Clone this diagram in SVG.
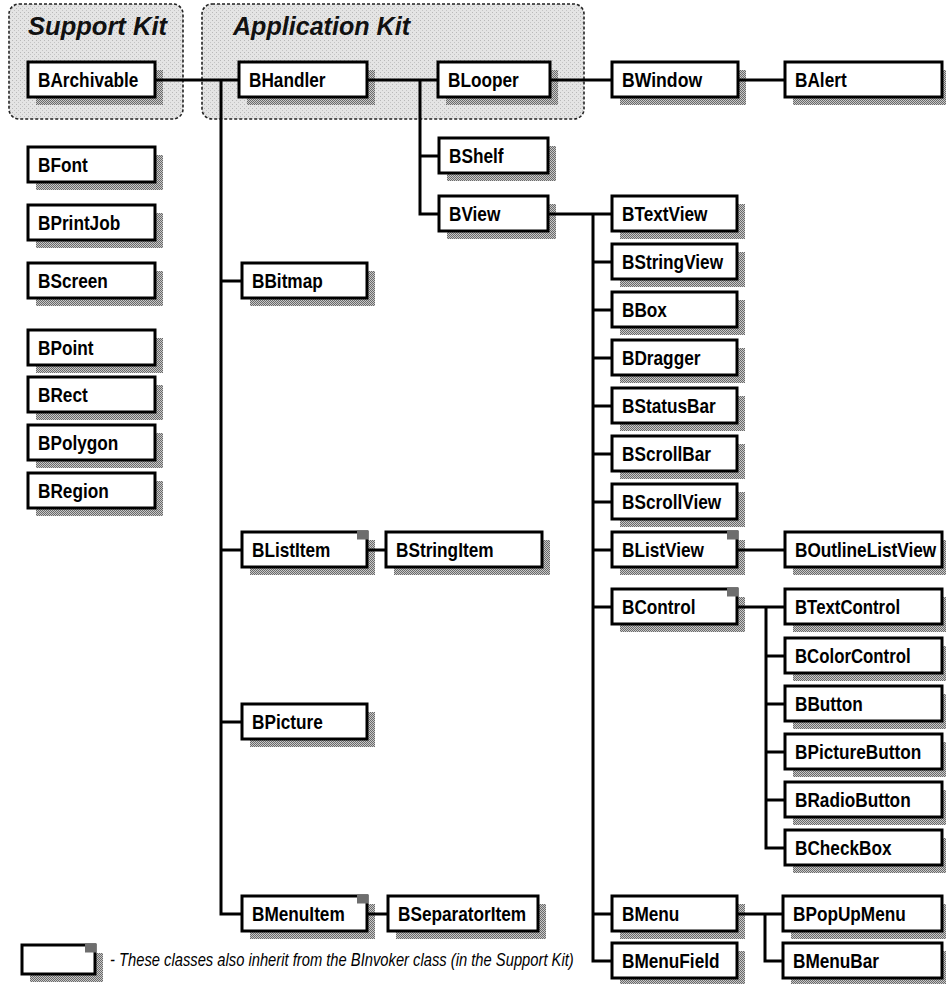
<svg xmlns="http://www.w3.org/2000/svg" width="946" height="984" viewBox="0 0 946 984">
<defs>
<pattern id="stip" width="4" height="4" patternUnits="userSpaceOnUse">
<rect width="4" height="4" fill="#e4e4e4"/>
<rect x="0" y="0" width="1" height="1" fill="#b8b8b8"/>
<rect x="2" y="2" width="1" height="1" fill="#c4c4c4"/>
</pattern>
<pattern id="shd" width="2" height="2" patternUnits="userSpaceOnUse">
<rect width="2" height="2" fill="#c8c8c8"/>
<rect x="0" y="0" width="1" height="1" fill="#6a6a6a"/>
<rect x="1" y="1" width="1" height="1" fill="#6a6a6a"/>
</pattern>
</defs>
<style>
.kit{fill:url(#stip);stroke:#222;stroke-width:1.6;stroke-dasharray:3 2}
.title{font-family:"Liberation Sans",Arial,sans-serif;font-weight:bold;font-style:italic;font-size:25px;fill:#111}
.sh{fill:url(#shd)}
.box{fill:#fff;stroke:#000;stroke-width:3}
.lbl{font-family:"Liberation Sans",Arial,sans-serif;font-weight:bold;font-size:21px;fill:#000}
.mk{fill:#6e6e6e}
.ln{fill:none;stroke:#000;stroke-width:3}
.leg{font-family:"Liberation Sans",Arial,sans-serif;font-style:italic;font-size:18px;fill:#000}
</style>

<g id="support-kit">
<rect class="kit" x="9" y="4" width="174" height="115" rx="10"/>
<text class="title" x="28" y="35" textLength="139" lengthAdjust="spacingAndGlyphs">Support Kit</text>
</g>
<g id="application-kit">
<rect class="kit" x="202" y="4" width="382" height="115" rx="10"/>
<text class="title" x="233" y="35" textLength="177" lengthAdjust="spacingAndGlyphs">Application Kit</text>
</g>

<g id="BArchivable"><rect class="sh" x="36" y="70" width="127" height="35"/><rect class="box" x="28" y="62" width="127" height="35"/><text class="lbl" transform="translate(38 87) scale(0.82 1)">BArchivable</text></g>
<g id="BFont"><rect class="sh" x="36" y="155" width="127" height="35"/><rect class="box" x="28" y="147" width="127" height="35"/><text class="lbl" transform="translate(38 172) scale(0.82 1)">BFont</text></g>
<g id="BPrintJob"><rect class="sh" x="36" y="213" width="127" height="35"/><rect class="box" x="28" y="205" width="127" height="35"/><text class="lbl" transform="translate(38 230) scale(0.82 1)">BPrintJob</text></g>
<g id="BScreen"><rect class="sh" x="36" y="271" width="127" height="35"/><rect class="box" x="28" y="263" width="127" height="35"/><text class="lbl" transform="translate(38 288) scale(0.82 1)">BScreen</text></g>
<g id="BPoint"><rect class="sh" x="36" y="338" width="127" height="35"/><rect class="box" x="28" y="330" width="127" height="35"/><text class="lbl" transform="translate(38 355) scale(0.82 1)">BPoint</text></g>
<g id="BRect"><rect class="sh" x="36" y="385" width="127" height="35"/><rect class="box" x="28" y="377" width="127" height="35"/><text class="lbl" transform="translate(38 402) scale(0.82 1)">BRect</text></g>
<g id="BPolygon"><rect class="sh" x="36" y="433" width="127" height="35"/><rect class="box" x="28" y="425" width="127" height="35"/><text class="lbl" transform="translate(38 450) scale(0.82 1)">BPolygon</text></g>
<g id="BRegion"><rect class="sh" x="36" y="481" width="127" height="35"/><rect class="box" x="28" y="473" width="127" height="35"/><text class="lbl" transform="translate(38 498) scale(0.82 1)">BRegion</text></g>

<g id="BHandler"><rect class="sh" x="247" y="70" width="128" height="35"/><rect class="box" x="239" y="62" width="128" height="35"/><text class="lbl" transform="translate(249 87) scale(0.82 1)">BHandler</text></g>
<g id="BBitmap"><rect class="sh" x="250" y="271" width="125" height="35"/><rect class="box" x="242" y="263" width="125" height="35"/><text class="lbl" transform="translate(252 288) scale(0.82 1)">BBitmap</text></g>
<g id="BListItem"><rect class="sh" x="250" y="540" width="125" height="35"/><rect class="box" x="242" y="532" width="125" height="35"/><rect class="mk" x="357" y="530.5" width="11" height="9"/><text class="lbl" transform="translate(252 557) scale(0.82 1)">BListItem</text></g>
<g id="BPicture"><rect class="sh" x="250" y="712" width="125" height="35"/><rect class="box" x="242" y="704" width="125" height="35"/><text class="lbl" transform="translate(252 729) scale(0.82 1)">BPicture</text></g>
<g id="BMenuItem"><rect class="sh" x="250" y="904" width="125" height="35"/><rect class="box" x="242" y="896" width="125" height="35"/><rect class="mk" x="357" y="894.5" width="11" height="9"/><text class="lbl" transform="translate(252 921) scale(0.82 1)">BMenuItem</text></g>
<g id="BStringItem"><rect class="sh" x="394" y="540" width="156" height="35"/><rect class="box" x="386" y="532" width="156" height="35"/><text class="lbl" transform="translate(396 557) scale(0.82 1)">BStringItem</text></g>
<g id="BSeparatorItem"><rect class="sh" x="396" y="904" width="150" height="35"/><rect class="box" x="388" y="896" width="150" height="35"/><text class="lbl" transform="translate(398 921) scale(0.82 1)">BSeparatorItem</text></g>

<g id="BLooper"><rect class="sh" x="446" y="70" width="112" height="35"/><rect class="box" x="438" y="62" width="112" height="35"/><text class="lbl" transform="translate(448 87) scale(0.82 1)">BLooper</text></g>
<g id="BShelf"><rect class="sh" x="447" y="146" width="109" height="35"/><rect class="box" x="439" y="138" width="109" height="35"/><text class="lbl" transform="translate(449 163) scale(0.82 1)">BShelf</text></g>
<g id="BView"><rect class="sh" x="447" y="204" width="109" height="35"/><rect class="box" x="439" y="196" width="109" height="35"/><text class="lbl" transform="translate(449 221) scale(0.82 1)">BView</text></g>

<g id="BWindow"><rect class="sh" x="620" y="70" width="126" height="35"/><rect class="box" x="612" y="62" width="126" height="35"/><text class="lbl" transform="translate(622 87) scale(0.84 1)">BWindow</text></g>
<g id="BAlert"><rect class="sh" x="793" y="70" width="157" height="35"/><rect class="box" x="785" y="62" width="157" height="35"/><text class="lbl" transform="translate(795 87) scale(0.82 1)">BAlert</text></g>

<g id="BTextView"><rect class="sh" x="620" y="204" width="125" height="35"/><rect class="box" x="612" y="196" width="125" height="35"/><text class="lbl" transform="translate(622 221) scale(0.82 1)">BTextView</text></g>
<g id="BStringView"><rect class="sh" x="620" y="252" width="125" height="35"/><rect class="box" x="612" y="244" width="125" height="35"/><text class="lbl" transform="translate(622 269) scale(0.82 1)">BStringView</text></g>
<g id="BBox"><rect class="sh" x="620" y="300" width="125" height="35"/><rect class="box" x="612" y="292" width="125" height="35"/><text class="lbl" transform="translate(622 317) scale(0.82 1)">BBox</text></g>
<g id="BDragger"><rect class="sh" x="620" y="348" width="125" height="35"/><rect class="box" x="612" y="340" width="125" height="35"/><text class="lbl" transform="translate(622 365) scale(0.82 1)">BDragger</text></g>
<g id="BStatusBar"><rect class="sh" x="620" y="396" width="125" height="35"/><rect class="box" x="612" y="388" width="125" height="35"/><text class="lbl" transform="translate(622 413) scale(0.82 1)">BStatusBar</text></g>
<g id="BScrollBar"><rect class="sh" x="620" y="444" width="125" height="35"/><rect class="box" x="612" y="436" width="125" height="35"/><text class="lbl" transform="translate(622 461) scale(0.82 1)">BScrollBar</text></g>
<g id="BScrollView"><rect class="sh" x="620" y="492" width="125" height="35"/><rect class="box" x="612" y="484" width="125" height="35"/><text class="lbl" transform="translate(622 509) scale(0.82 1)">BScrollView</text></g>
<g id="BListView"><rect class="sh" x="620" y="540" width="125" height="35"/><rect class="box" x="612" y="532" width="125" height="35"/><rect class="mk" x="727" y="530.5" width="11" height="9"/><text class="lbl" transform="translate(622 557) scale(0.82 1)">BListView</text></g>
<g id="BControl"><rect class="sh" x="620" y="597" width="125" height="35"/><rect class="box" x="612" y="589" width="125" height="35"/><rect class="mk" x="727" y="587.5" width="11" height="9"/><text class="lbl" transform="translate(622 614) scale(0.82 1)">BControl</text></g>
<g id="BMenu"><rect class="sh" x="620" y="904" width="125" height="35"/><rect class="box" x="612" y="896" width="125" height="35"/><text class="lbl" transform="translate(622 921) scale(0.82 1)">BMenu</text></g>
<g id="BMenuField"><rect class="sh" x="620" y="951" width="125" height="35"/><rect class="box" x="612" y="943" width="125" height="35"/><text class="lbl" transform="translate(622 968) scale(0.82 1)">BMenuField</text></g>

<g id="BOutlineListView"><rect class="sh" x="793" y="540" width="157" height="35"/><rect class="box" x="785" y="532" width="157" height="35"/><text class="lbl" transform="translate(795 557) scale(0.82 1)">BOutlineListView</text></g>
<g id="BTextControl"><rect class="sh" x="793" y="597" width="157" height="35"/><rect class="box" x="785" y="589" width="157" height="35"/><text class="lbl" transform="translate(795 614) scale(0.8 1)">BTextControl</text></g>
<g id="BColorControl"><rect class="sh" x="793" y="646" width="157" height="35"/><rect class="box" x="785" y="638" width="157" height="35"/><text class="lbl" transform="translate(795 663) scale(0.8 1)">BColorControl</text></g>
<g id="BButton"><rect class="sh" x="793" y="694" width="157" height="35"/><rect class="box" x="785" y="686" width="157" height="35"/><text class="lbl" transform="translate(795 711) scale(0.82 1)">BButton</text></g>
<g id="BPictureButton"><rect class="sh" x="793" y="742" width="157" height="35"/><rect class="box" x="785" y="734" width="157" height="35"/><text class="lbl" transform="translate(795 759) scale(0.82 1)">BPictureButton</text></g>
<g id="BRadioButton"><rect class="sh" x="793" y="790" width="157" height="35"/><rect class="box" x="785" y="782" width="157" height="35"/><text class="lbl" transform="translate(795 807) scale(0.82 1)">BRadioButton</text></g>
<g id="BCheckBox"><rect class="sh" x="793" y="838" width="157" height="35"/><rect class="box" x="785" y="830" width="157" height="35"/><text class="lbl" transform="translate(795 855) scale(0.82 1)">BCheckBox</text></g>
<g id="BPopUpMenu"><rect class="sh" x="791" y="904" width="159" height="35"/><rect class="box" x="783" y="896" width="159" height="35"/><text class="lbl" transform="translate(793 921) scale(0.82 1)">BPopUpMenu</text></g>
<g id="BMenuBar"><rect class="sh" x="791" y="951" width="159" height="35"/><rect class="box" x="783" y="943" width="159" height="35"/><text class="lbl" transform="translate(793 968) scale(0.82 1)">BMenuBar</text></g>

<g id="connectors">
<path class="ln" d="M155 80 H239 M221 80 V914 H242 M221 281 H242 M221 550 H242 M221 722 H242"/>
<path class="ln" d="M367 80 H438 M420 80 V214 H439 M420 156 H439"/>
<path class="ln" d="M550 80 H612 M738 80 H785"/>
<path class="ln" d="M548 214 H612 M593 214 V961 H612 M593 262 H612 M593 310 H612 M593 358 H612 M593 406 H612 M593 454 H612 M593 502 H612 M593 550 H612 M593 607 H612 M593 914 H612"/>
<path class="ln" d="M737 550 H785"/>
<path class="ln" d="M737 607 H785 M766 607 V848 H785 M766 656 H785 M766 704 H785 M766 752 H785 M766 800 H785"/>
<path class="ln" d="M737 914 H783 M765 914 V961 H783"/>
<path class="ln" d="M367 550 H386 M367 914 H388"/>
</g>

<g id="legend">
<rect class="sh" x="30" y="953" width="73" height="29"/>
<rect class="box" x="22" y="945" width="73" height="29"/>
<rect class="mk" x="85" y="943.5" width="11" height="9"/>
<text class="leg" transform="translate(110 966) scale(0.82 1)">- These classes also inherit from the BInvoker class (in the Support Kit)</text>
</g>
</svg>
